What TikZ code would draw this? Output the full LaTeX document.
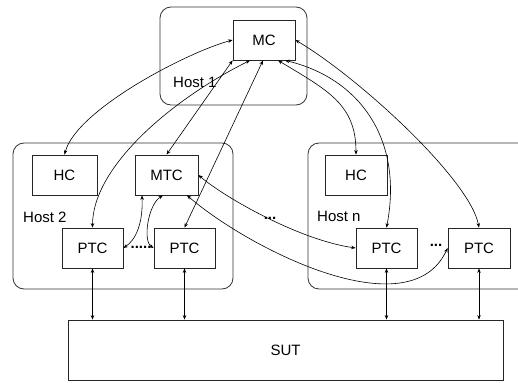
\documentclass[tikz,border=0pt]{standalone}
\usepackage{fontspec}
\setmainfont{Liberation Sans}
\usetikzlibrary{arrows.meta}
\begin{document}
\begin{tikzpicture}[x=1pt,y=-1pt,
  font=\fontsize{15}{18}\selectfont,
  box/.style={draw=black!85, line width=0.8pt, inner sep=0pt},
  hostbox/.style={draw=black!80, line width=0.8pt, rounded corners=11pt},
  lbl/.style={inner sep=0pt, anchor=base west},
  dots/.style={inner sep=0pt, anchor=base, font=\fontsize{15}{18}\selectfont\bfseries},
  link/.style={line width=0.6pt, {Stealth[length=4.5pt,width=3.5pt]}-{Stealth[length=4.5pt,width=3.5pt]}}
]
\useasboundingbox (0,0) rectangle (518,382);
\clip (0,0) rectangle (518,382);
\fill[white] (0,0) rectangle (518,382);
% hosts
\draw[hostbox] (160,7) rectangle (307,105);
\draw[hostbox] (13,143) rectangle (233,289);
\draw[hostbox] (308,143) rectangle (545,289);
% nodes
\node[box, minimum width=62pt, minimum height=40pt] (mc) at (264,40) {MC};
\node[box, minimum width=65pt, minimum height=40pt] (hc2) at (64.5,175) {HC};
\node[box, minimum width=63pt, minimum height=40pt] (mtc) at (166.5,175) {MTC};
\node[box, minimum width=61pt, minimum height=40pt] (ptc1) at (92.5,248) {PTC};
\node[box, minimum width=61pt, minimum height=40pt] (ptc2) at (184.5,248) {PTC};
\node[box, minimum width=62pt, minimum height=40pt] (hcn) at (356,175) {HC};
\node[box, minimum width=61pt, minimum height=40pt] (ptc3) at (386.5,248) {PTC};
\node[box, minimum width=62pt, minimum height=40pt] (ptc4) at (479,248) {PTC};
\node[box, minimum width=435pt, minimum height=60pt] (sut) at (285.5,350) {SUT};
% labels
\node[lbl] (l1) at (173,88) {Host 1};
\node[lbl] (l2) at (23,222.5) {Host 2};
\node[lbl] (ln) at (317,221) {Host n};
\node[dots] (d1) at (141,248.5) {.....};
\node[dots] (d2) at (270,219.5) {...};
\node[dots] (d3) at (436,246.5) {...};
% connectors from MC
\draw[link] (mc.west) .. controls +(-45,12) and +(12,-45) .. (hc2.north);
\draw[link] (mc.south west) -- (mtc.north);
\draw[link] ([xshift=-14pt]mc.south) .. controls +(-80,40) and +(0,-60) .. (ptc1.north);
\draw[link] ([xshift=-1pt]mc.south) -- (ptc2.north);
\draw[link] ([xshift=14pt]mc.south) .. controls +(50,30) and +(0,-50) .. (hcn.north);
\draw[link] ([xshift=21pt]mc.south) .. controls +(75,18) and +(17,-88) .. (ptc3.north);
\draw[link] (mc.east) .. controls +(64,38) and +(-9,-48) .. (ptc4.north);
% connectors from MTC
\draw[link] ([xshift=-24.5pt]mtc.south) .. controls +(1,29) and +(12,-8) .. (ptc1.east);
\draw[link] ([xshift=-3.5pt]mtc.south) .. controls +(-15,9) and +(-11,-7) .. (ptc2.west);
\draw[link] (mtc.east) .. controls +(27,23) and +(-56,-8) .. (ptc3.west);
\draw[link] ([xshift=20.5pt]mtc.south) .. controls +(63,54) and +(-38,82) .. (ptc4.west);
% to SUT
\draw[link] (ptc1.south) -- (ptc1.south |- sut.north);
\draw[link] (ptc2.south) -- (ptc2.south |- sut.north);
\draw[link] (ptc3.south) -- (ptc3.south |- sut.north);
\draw[link] (ptc4.south) -- (ptc4.south |- sut.north);
\end{tikzpicture}
\end{document}
